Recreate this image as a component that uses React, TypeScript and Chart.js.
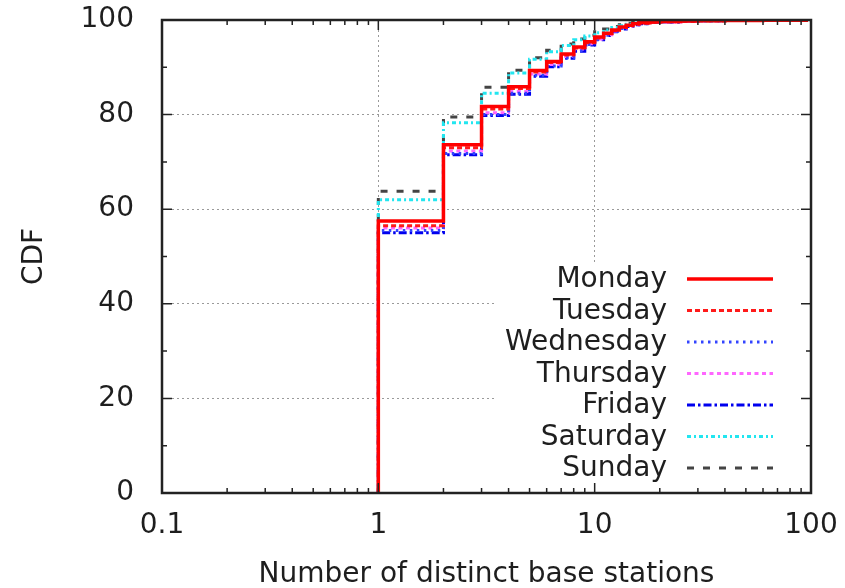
import React, { useEffect, useRef } from "react";
import { Chart, registerables } from "chart.js";

Chart.register(...registerables);

const stations = [1, 2, 3, 4, 5, 6, 7, 8, 9, 10, 11, 12, 13, 14, 15, 16, 18, 20, 25, 30, 40, 60, 95];

const monday = [57.5, 73.6, 81.7, 85.9, 89.3, 91.2, 92.8, 94.3, 95.4, 96.4, 97.2, 97.9, 98.5, 98.9, 99.2, 99.4, 99.6, 99.7, 99.8, 99.85, 99.9, 99.95, 100];
const tuesday = [56.5, 73.0, 81.2, 85.5, 89.0, 91.0, 92.6, 94.1, 95.2, 96.2, 97.1, 97.8, 98.4, 98.8, 99.1, 99.3, 99.5, 99.65, 99.75, 99.85, 99.9, 99.95, 100];
const wednesday = [55.5, 71.8, 80.0, 84.5, 88.3, 90.3, 92.0, 93.5, 94.8, 95.9, 96.8, 97.6, 98.2, 98.7, 99.0, 99.2, 99.5, 99.6, 99.75, 99.85, 99.9, 99.95, 100];
const thursday = [56.0, 72.3, 80.4, 84.9, 88.6, 90.6, 92.3, 93.8, 95.0, 96.0, 96.9, 97.7, 98.3, 98.7, 99.0, 99.3, 99.5, 99.6, 99.75, 99.85, 99.9, 99.95, 100];
const friday = [55.0, 71.5, 79.8, 84.3, 88.1, 90.1, 91.9, 93.4, 94.7, 95.8, 96.7, 97.5, 98.1, 98.6, 99.0, 99.2, 99.5, 99.6, 99.75, 99.85, 99.9, 99.95, 100];
const saturday = [62.0, 78.3, 84.5, 88.8, 91.7, 93.3, 94.6, 95.8, 96.6, 97.3, 97.9, 98.4, 98.8, 99.1, 99.3, 99.5, 99.6, 99.7, 99.8, 99.85, 99.9, 99.95, 100];
const sunday = [63.8, 79.5, 85.8, 89.4, 92.0, 93.6, 94.9, 96.0, 96.8, 97.5, 98.1, 98.6, 99.0, 99.3, 99.5, 99.6, 99.7, 99.75, 99.8, 99.85, 99.9, 99.95, 100];

const dayNames = ["Monday", "Tuesday", "Wednesday", "Thursday", "Friday", "Saturday", "Sunday"];
const daySeries = [monday, tuesday, wednesday, thursday, friday, saturday, sunday];

const xTickValues = [0.1, 1, 10, 100];
const yTickValues = [0, 20, 40, 60, 80, 100];
const xTitle = "Number of distinct base stations";
const yTitle = "CDF";

const styles = [
  { color: "#ff0000", dash: [] as number[], width: 3.5 },
  { color: "#ff1a1a", dash: [5, 3], width: 3 },
  { color: "#3344ff", dash: [2.5, 4.5], width: 3 },
  { color: "#ff66ff", dash: [4, 3.5], width: 3 },
  { color: "#0000ee", dash: [8, 3, 2.5, 3], width: 3 },
  { color: "#22e6f0", dash: [4, 3, 2, 3], width: 3 },
  { color: "#444444", dash: [7, 9], width: 3 },
];

const FONT = "'DejaVu Sans', sans-serif";
const TEXT = "#1e1e1e";

const legendPlugin = {
  id: "insideLegend",
  afterDatasetsDraw(chart: any) {
    const ctx = chart.ctx;
    ctx.save();
    ctx.fillStyle = "#ffffff";
    ctx.fillRect(497, 262, 303, 223);
    ctx.font = `28px ${FONT}`;
    ctx.textAlign = "right";
    ctx.textBaseline = "middle";
    chart.data.datasets.forEach((ds: any, i: number) => {
      const y = 279 + i * 31.5;
      ctx.fillStyle = TEXT;
      ctx.fillText(ds.label, 667, y + 1);
      ctx.strokeStyle = ds.borderColor;
      ctx.lineWidth = ds.borderWidth;
      ctx.setLineDash(ds.borderDash || []);
      ctx.beginPath();
      ctx.moveTo(687, y);
      ctx.lineTo(773, y);
      ctx.stroke();
    });
    ctx.restore();
  },
  afterDraw(chart: any) {
    const ctx = chart.ctx;
    const { left, right, top, bottom } = chart.chartArea;
    const xs = chart.scales.x;
    const ys = chart.scales.y;
    ctx.save();
    ctx.strokeStyle = "#222";
    ctx.lineWidth = 1.5;
    ctx.setLineDash([]);
    const major = 10;
    const minor = 5;
    ctx.beginPath();
    for (let v = 0; v <= 100; v += 10) {
      const y = ys.getPixelForValue(v);
      const len = v % 20 === 0 ? major : minor;
      ctx.moveTo(left, y);
      ctx.lineTo(left + len, y);
      ctx.moveTo(right, y);
      ctx.lineTo(right - len, y);
    }
    for (let d = 0.1; d < 100; d *= 10) {
      for (let k = 1; k <= 10; k++) {
        const v = d * k;
        const x = xs.getPixelForValue(v);
        const len = k === 1 || k === 10 ? major : minor;
        ctx.moveTo(x, bottom);
        ctx.lineTo(x, bottom - len);
        ctx.moveTo(x, top);
        ctx.lineTo(x, top + len);
      }
    }
    ctx.stroke();
    ctx.lineWidth = 2.5;
    ctx.strokeRect(left, top, right - left, bottom - top);
    ctx.restore();
  },
};

export default function App() {
  const ref = useRef<HTMLCanvasElement>(null);
  useEffect(() => {
    if (!ref.current) return;
    const datasets = dayNames.map((name, i) => ({
      label: name,
      data: [{ x: stations[0], y: 0 }, ...stations.map((s, j) => ({ x: s, y: daySeries[i][j] }))],
      borderColor: styles[i].color,
      borderDash: styles[i].dash,
      borderWidth: styles[i].width,
      stepped: true,
      pointRadius: 0,
      fill: false,
    }));
    const chart = new Chart(ref.current, {
      type: "line",
      data: { datasets },
      options: {
        responsive: false,
        animation: false,
        layout: { padding: { top: 20, right: 34, left: 0, bottom: 0 } },
        plugins: { legend: { display: false }, tooltip: { enabled: false } },
        scales: {
          x: {
            type: "logarithmic",
            min: 0.1,
            max: 100,
            afterBuildTicks: (s: any) => {
              s.ticks = xTickValues.map((v) => ({ value: v }));
            },
            afterFit: (s: any) => {
              s.height = 95;
              s.paddingLeft = 0;
              s.paddingRight = 0;
              s.paddingTop = 0;
              s.paddingBottom = 0;
            },
            ticks: {
              callback: (v: any) => String(v),
              font: { family: FONT, size: 28 },
              color: TEXT,
              padding: 16,
              maxRotation: 0,
              autoSkip: false,
            },
            grid: { color: "#9a9a9a", lineWidth: 1, drawTicks: false },
            border: { display: false, dash: [2, 3] },
            title: {
              display: true,
              text: xTitle,
              font: { family: FONT, size: 28 },
              color: TEXT,
              padding: { top: 0, bottom: -4 },
            },
          },
          y: {
            type: "linear",
            min: 0,
            max: 100,
            afterBuildTicks: (s: any) => {
              s.ticks = yTickValues.map((v) => ({ value: v }));
            },
            afterFit: (s: any) => {
              s.width = 162;
              s.paddingLeft = 0;
              s.paddingRight = 0;
              s.paddingTop = 0;
              s.paddingBottom = 0;
            },
            ticks: {
              font: { family: FONT, size: 28 },
              color: TEXT,
              padding: 28,
            },
            grid: { color: "#9a9a9a", lineWidth: 1, drawTicks: false },
            border: { display: false, dash: [2, 3] },
            title: {
              display: true,
              text: yTitle,
              font: { family: FONT, size: 28 },
              color: TEXT,
              padding: { top: 18, bottom: 0 },
            },
          },
        },
      },
      plugins: [legendPlugin],
    });
    return () => chart.destroy();
  }, []);
  return (
    <div style={{ position: "absolute", left: 0, top: 0, width: 845, height: 588, background: "#fff" }}>
      <canvas ref={ref} width={845} height={588} style={{ display: "block" }} />
    </div>
  );
}
